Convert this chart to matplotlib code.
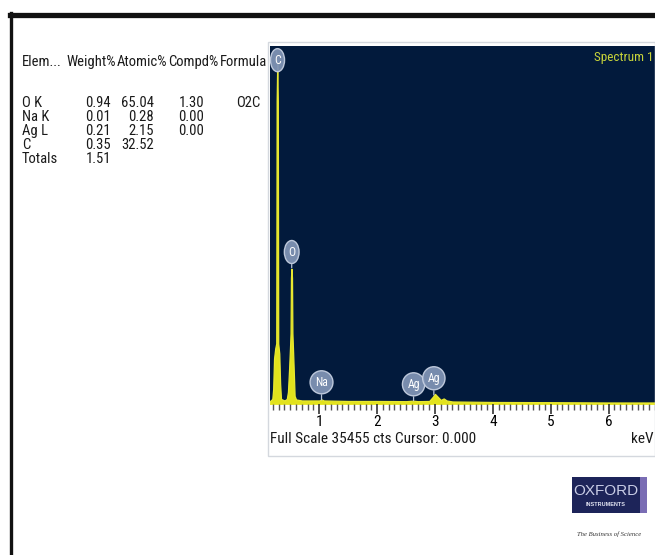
import matplotlib

matplotlib.use("Agg")
import matplotlib.pyplot as plt
from matplotlib.lines import Line2D
from matplotlib.patches import Rectangle
import matplotlib.ticker as mticker

# EDS result table
elements = ["O K", "Na K", "Ag L", "C", "Totals"]
weight_pct = ["0.94", "0.01", "0.21", "0.35", "1.51"]
atomic_pct = ["65.04", "0.28", "2.15", "32.52", ""]
compd_pct = ["1.30", "0.00", "0.00", "", ""]
formula = ["O2C", "", "", "", ""]
headers = ["Elem...", "Weight%", "Atomic%", "Compd%", "Formula"]

# spectrum outline (keV, counts)
energy_kev = [0.15, 0.19, 0.205, 0.22, 0.24, 0.258, 0.265, 0.275, 0.285, 0.292,
              0.31, 0.325, 0.34, 0.40, 0.44, 0.46, 0.48, 0.495, 0.505, 0.512,
              0.52, 0.53, 0.537, 0.55, 0.565, 0.575, 0.60, 0.70, 1.00, 1.04,
              1.08, 1.50, 2.00, 2.50, 2.62, 2.70, 2.90, 2.96, 3.00, 3.05,
              3.10, 3.15, 3.20, 3.30, 4.00, 5.00, 6.00, 6.80]
counts = [300, 500, 1500, 4500, 5500, 6000, 30000, 33800, 30000, 6000,
          5000, 2000, 500, 350, 500, 1200, 3500, 5500, 7000, 12500,
          13400, 12500, 7000, 5000, 2500, 800, 450, 350, 350, 450,
          350, 300, 300, 280, 330, 280, 300, 700, 1000, 700,
          400, 550, 350, 250, 200, 180, 150, 150]

full_scale = 35455

# peak markers: label, keV, counts at label centre, counts at stem foot
peak_labels = ["C", "O", "Na", "Ag", "Ag"]
peak_kev = [0.28, 0.525, 1.04, 2.63, 2.98]
label_counts = [34050, 15050, 2150, 1950, 2550]
stem_counts = [33000, 13500, 400, 330, 900]

FONT = ["Roboto Condensed", "Archivo Narrow", "Liberation Sans", "DejaVu Sans"]
W, H = 655, 555

fig = plt.figure(figsize=(6.55, 5.55), dpi=100)
fig.patch.set_facecolor("white")


def fx(px):
    return px / W


def fy(py):
    return 1 - py / H


# black frame (top and left only)
fig.add_artist(Line2D([fx(10), 1.0], [fy(14.5), fy(14.5)], color="#111111", lw=3.8))
fig.add_artist(Line2D([fx(11), fx(11)], [fy(13), 0.0], color="#111111", lw=2.4))

# table text
header_x = [22, 66, 117, 168, 220]
for x, h in zip(header_x, headers):
    fig.text(fx(x), fy(62), h, family=FONT, fontsize=10.5, color="#1a1a1a",
             ha="left", va="center")

row_y = [103, 117, 131, 145, 159]
col_right = [111, 154, 204, 260]
for i, y in enumerate(row_y):
    fig.text(fx(22), fy(y), elements[i], family=FONT, fontsize=10.5,
             color="#1a1a1a", ha="left", va="center")
    for x, col in zip(col_right, [weight_pct, atomic_pct, compd_pct, formula]):
        if col[i]:
            fig.text(fx(x), fy(y), col[i], family=FONT, fontsize=10.5,
                     color="#1a1a1a", ha="right", va="center")

# light frame round the spectrum window
fig.add_artist(Rectangle((fx(268), fy(456)), 1 - fx(268), fy(42) - fy(456),
                         transform=fig.transFigure, fill=False,
                         edgecolor="#d4d8de", lw=1.0))

ax = fig.add_axes([fx(270), fy(404), 1 - fx(270), fy(46) - fy(404)])
ax.set_facecolor("#021a3c")
ax.fill_between(energy_kev, 0, counts, color="#e2e21c", lw=0.9,
                edgecolor="#e8e830")
ax.set_xlim(0.15, 6.8)
ax.set_ylim(0, full_scale)
ax.set_yticks([])
for s in ax.spines.values():
    s.set_visible(False)

ax.xaxis.set_major_locator(mticker.MultipleLocator(1))
ax.xaxis.set_minor_locator(mticker.MultipleLocator(0.1))
ax.tick_params(axis="x", which="major", length=7, width=1.2, color="#333333",
               pad=1, labelsize=11)
ax.tick_params(axis="x", which="minor", length=4, width=1.0, color="#555555")
ax.xaxis.set_major_formatter(mticker.FuncFormatter(
    lambda v, _: f"{int(round(v))}" if 1 <= round(v) <= 6 else ""))
for lab in ax.get_xticklabels():
    lab.set_family(FONT)

for lab, e, yc, ys in zip(peak_labels, peak_kev, label_counts, stem_counts):
    ax.annotate("", xy=(e, ys), xytext=(e, yc),
                arrowprops=dict(arrowstyle="-", color="#b8c4d8", lw=0.9,
                                shrinkA=9, shrinkB=0))
    ax.text(e, yc, lab, family=FONT, fontsize=8.5, color="white",
            ha="center", va="center",
            bbox=dict(boxstyle="ellipse,pad=0.14", facecolor="#7f93b4",
                      edgecolor="#c4cee0", lw=1.0, alpha=0.95))

ax.text(0.995, 0.985, "Spectrum 1", transform=ax.transAxes, family=FONT,
        fontsize=9.5, color="#c8d43a", ha="right", va="top")

fig.text(fx(270), fy(439), "Full Scale 35455 cts Cursor: 0.000", family=FONT,
         fontsize=11, color="#1a1a1a", ha="left", va="center")
fig.text(fx(653), fy(439), "keV", family=FONT, fontsize=11, color="#1a1a1a",
         ha="right", va="center")

# Oxford Instruments logo
fig.add_artist(Rectangle((fx(572), fy(513)), fx(640) - fx(572), fy(477) - fy(513),
                         transform=fig.transFigure, facecolor="#1d2459",
                         edgecolor="none"))
fig.add_artist(Rectangle((fx(640), fy(513)), fx(647) - fx(640), fy(477) - fy(513),
                         transform=fig.transFigure, facecolor="#7a6db4",
                         edgecolor="none"))
fig.text(fx(606), fy(491), "OXFORD", family=["Liberation Sans", "DejaVu Sans"],
         fontsize=11, color="#c9cde6", ha="center", va="center")
fig.text(fx(606), fy(505), "INSTRUMENTS", family=["Liberation Sans", "DejaVu Sans"],
         fontsize=4, color="#e0e2f0", ha="center", va="center",
         fontweight="bold")
fig.text(fx(609), fy(534), "The Business of Science", family="Liberation Serif",
         fontsize=4.8, style="italic", color="#333333", ha="center", va="center")

fig.savefig("out.png", dpi=100)
